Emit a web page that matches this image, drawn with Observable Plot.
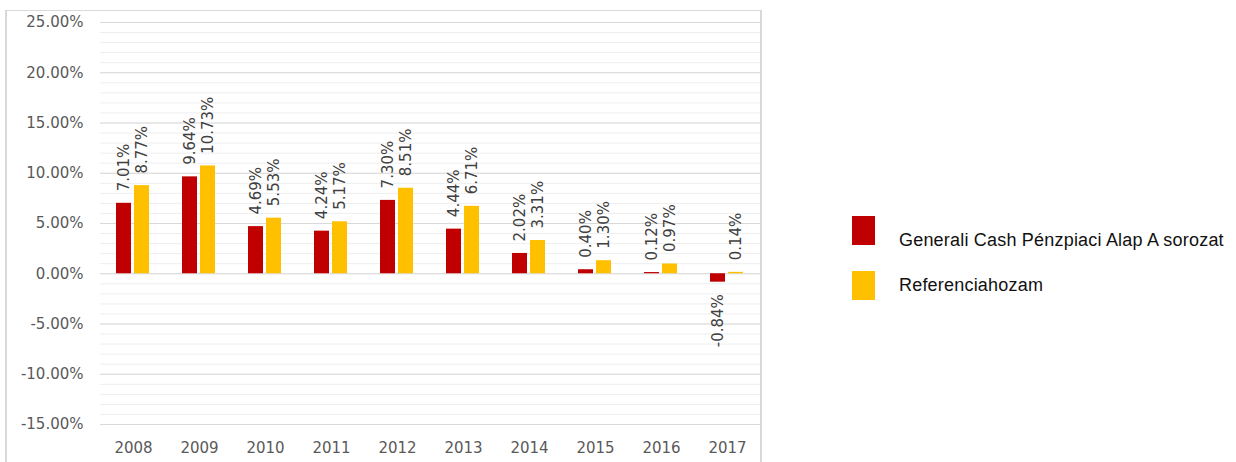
<!DOCTYPE html>
<html>
<head>
<meta charset="utf-8">
<script src="https://cdn.jsdelivr.net/npm/d3@7"></script>
<script src="https://cdn.jsdelivr.net/npm/@observablehq/plot@0.6"></script>
<style>
  html, body { margin: 0; padding: 0; background: #fff; }
  body { width: 1236px; height: 462px; position: relative; overflow: hidden; }
  #frame { position: absolute; left: 5px; top: 10px; width: 753px; height: 460px;
           border-left: 2px solid #d9d9d9; border-right: 2px solid #d9d9d9; border-top: 1px solid #d9d9d9; }
  .sw { position: absolute; left: 852px; width: 23px; height: 29px; }
  .lt { position: absolute; left: 899px; font-family: "Liberation Sans", Arial, sans-serif; font-size: 18px; letter-spacing: 0.2px; line-height: 20px; color: #111; white-space: nowrap; }
</style>
</head>
<body>
<div id="frame"></div>
<div class="sw" style="top:216px;background:#C00000"></div>
<div class="lt" style="top:230px" id="l1"></div>
<div class="sw" style="top:271px;background:#FFC000"></div>
<div class="lt" style="top:275px" id="l2"></div>
<script>
const years = ["2008", "2009", "2010", "2011", "2012", "2013", "2014", "2015", "2016", "2017"];
const seriesNames = ["Generali Cash Pénzpiaci Alap A sorozat", "Referenciahozam"];
const fundReturns = [7.01, 9.64, 4.69, 4.24, 7.30, 4.44, 2.02, 0.40, 0.12, -0.84];
const benchmarkReturns = [8.77, 10.73, 5.53, 5.17, 8.51, 6.71, 3.31, 1.30, 0.97, 0.14];
const yTicks = [-15, -10, -5, 0, 5, 10, 15, 20, 25];
const seriesColors = ["#C00000", "#FFC000"];

const data = years.flatMap((year, i) => [
  {year, series: seriesNames[0], value: fundReturns[i]},
  {year, series: seriesNames[1], value: benchmarkReturns[i]}
]);
const minorTicks = d3.range(-15, 26, 1);
const fmt = d => d.toFixed(2) + "%";

const chart = Plot.plot({
  width: 753,
  height: 451,
  marginLeft: 92,
  marginRight: 0,
  marginTop: 11,
  marginBottom: 38,
  style: {fontFamily: "DejaVu Sans", fontSize: "15px", color: "#595959", background: "transparent"},
  fx: {domain: years, padding: 0, axis: "bottom", label: null, tickSize: 0, tickPadding: 18},
  x: {domain: seriesNames, paddingInner: 0.16, paddingOuter: 0.87, axis: null},
  y: {domain: [-15, 25], ticks: yTicks, tickFormat: fmt, tickSize: 0, tickPadding: 17, label: null},
  color: {domain: seriesNames, range: seriesColors},
  marks: [
    Plot.ruleY(minorTicks, {stroke: "#eeeeee", strokeWidth: 1}),
    Plot.ruleY(yTicks, {stroke: "#d9d9d9", strokeWidth: 1}),
    Plot.barY(data, {fx: "year", x: "series", y: "value", fill: "series"}),
    Plot.text(data.filter(d => d.value >= 0), {
      fx: "year", x: "series", y: "value", text: d => fmt(d.value),
      rotate: -90, textAnchor: "start", lineAnchor: "middle", dy: -12,
      fill: "#404040", fontSize: 15
    }),
    Plot.text(data.filter(d => d.value < 0), {
      fx: "year", x: "series", y: "value", text: d => fmt(d.value),
      rotate: -90, textAnchor: "end", lineAnchor: "middle", dy: 12,
      fill: "#404040", fontSize: 15
    })
  ]
});
document.getElementById("frame").appendChild(chart);
document.getElementById("l1").textContent = seriesNames[0];
document.getElementById("l2").textContent = seriesNames[1];
</script>
</body>
</html>
